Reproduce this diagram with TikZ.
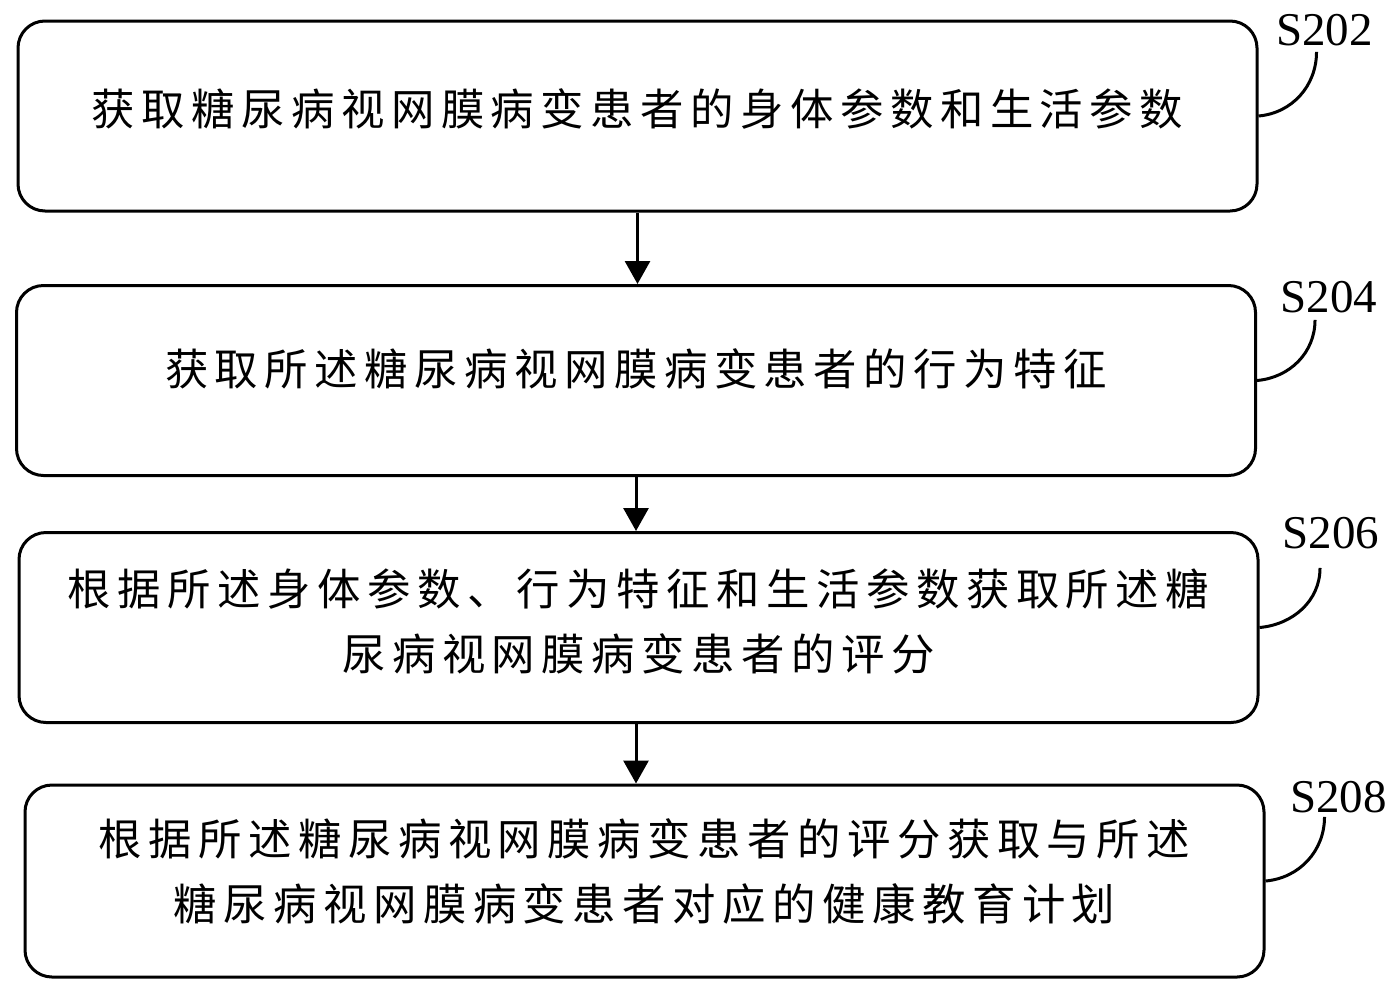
\documentclass[tikz,border=0pt]{standalone}
\usepackage{fontspec}
\setmainfont{Liberation Serif}
\newfontfamily\cjk{Noto Sans CJK SC}[LetterSpace=15]
\usetikzlibrary{arrows.meta}

\begin{document}
\begin{tikzpicture}[x=0.5pt,y=-0.5pt,line width=1.5pt,
    stepbox/.style={draw,rounded corners=13.5pt,align=center,minimum width=619.5pt,
      minimum height=95pt,inner sep=0pt,font=\cjk\fontsize{21.7pt}{32.5pt}\selectfont},
    steplabel/.style={inner sep=0pt,anchor=base,font=\fontsize{23.5pt}{24pt}\selectfont},
    flow/.style={-{Triangle[width=12.5pt,length=11.5pt]}}]
    \useasboundingbox (0,0) rectangle (1400,991);
    \node[stepbox,text depth=8.6pt] (B1) at (637.5,116) {获取糖尿病视网膜病变患者的身体参数和生活参数};
    \node[stepbox,text depth=13.6pt] (B2) at (636,380.5) {获取所述糖尿病视网膜病变患者的行为特征};
    \node[stepbox,text depth=8pt] (B3) at (638.5,627.5) {根据所述身体参数、行为特征和生活参数获取所述糖\\尿病视网膜病变患者的评分};
    \node[stepbox,minimum height=96pt,text depth=11pt] (B4) at (644.5,881) {根据所述糖尿病视网膜病变患者的评分获取与所述\\糖尿病视网膜病变患者对应的健康教育计划};
    \node[steplabel] (L1) at (1324.5,45) {S202};
    \node[steplabel] (L2) at (1329,312) {S204};
    \node[steplabel] (L3) at (1331,548) {S206};
    \node[steplabel] (L4) at (1338.5,812) {S208};
    \path[flow] (B1.south) edge (B1.south |- B2.north);
    \path[flow] (B2.south) edge (B2.south |- B3.north);
    \path[flow] (B3.south -| B2.south) edge (B2.south |- B4.north);
    \path (B1.east) edge[out=5,in=-90] ([xshift=-4pt,yshift=-2.5pt]L1.south);
    \path (B2.east) edge[out=5,in=-90] ([xshift=-7pt,yshift=-3pt]L2.south);
    \path (B3.east) edge[out=5,in=-90] ([xshift=-5.5pt,yshift=-9pt]L3.south);
    \path (B4.east) edge[out=5,in=-90] ([xshift=-7pt,yshift=-1.5pt]L4.south);
  \end{tikzpicture}
\end{document}
